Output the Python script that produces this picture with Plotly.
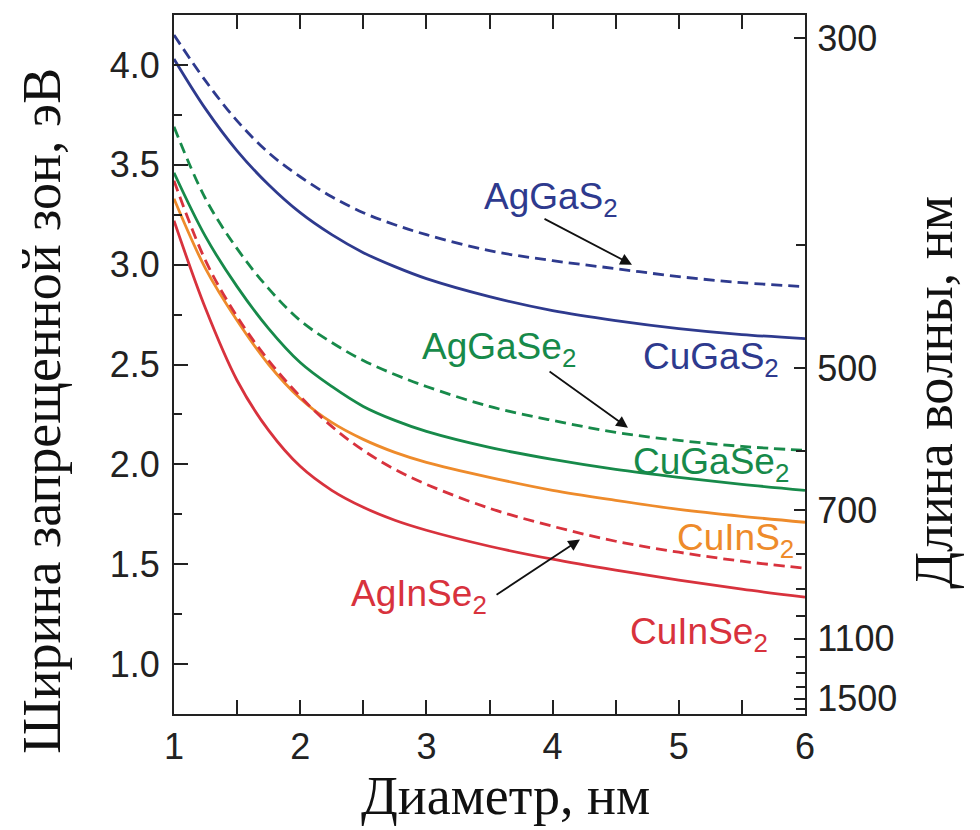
import plotly.graph_objects as go

# Diameter, nm
diam = [1.0, 1.25, 1.5, 1.75, 2.0, 2.25, 2.5, 2.75, 3.0, 3.5, 4.0, 4.5, 5.0, 5.5, 6.0]

# Band gap, eV
AgGaS2 = [4.15, 3.92, 3.72, 3.56, 3.44, 3.34, 3.26, 3.20, 3.15, 3.07, 3.02, 2.98, 2.94, 2.91, 2.89]
CuGaS2 = [4.03, 3.78, 3.57, 3.40, 3.26, 3.15, 3.06, 2.99, 2.93, 2.84, 2.77, 2.72, 2.68, 2.65, 2.63]
AgGaSe2 = [3.69, 3.33, 3.08, 2.88, 2.72, 2.61, 2.52, 2.45, 2.39, 2.29, 2.22, 2.16, 2.12, 2.09, 2.07]
CuGaSe2 = [3.46, 3.14, 2.89, 2.68, 2.51, 2.39, 2.29, 2.22, 2.165, 2.085, 2.025, 1.975, 1.935, 1.90, 1.87]
CuInS2 = [3.33, 2.98, 2.72, 2.50, 2.33, 2.21, 2.125, 2.06, 2.01, 1.935, 1.87, 1.82, 1.775, 1.74, 1.71]
AgInSe2 = [3.42, 3.02, 2.74, 2.52, 2.34, 2.19, 2.07, 1.975, 1.90, 1.78, 1.69, 1.615, 1.56, 1.515, 1.48]
CuInSe2 = [3.22, 2.78, 2.42, 2.17, 1.99, 1.87, 1.785, 1.72, 1.67, 1.59, 1.525, 1.47, 1.42, 1.375, 1.335]

# Right axis: wavelength ticks (nm)
wl_major = [300, 500, 700, 1100, 1500]
wl_major_labels = ["300", "500", "700", "1100", "1500"]
wl_minor = [400, 600, 800, 900, 1000, 1200, 1300, 1400, 1600]

BLUE = "#2e3a8e"
GREEN = "#178a4a"
ORANGE = "#ee8b2b"
RED = "#d8323d"

series = [
    ("AgGaS2", AgGaS2, BLUE, "11px,6px"),
    ("CuGaS2", CuGaS2, BLUE, "solid"),
    ("AgGaSe2", AgGaSe2, GREEN, "11px,6px"),
    ("CuGaSe2", CuGaSe2, GREEN, "solid"),
    ("CuInS2", CuInS2, ORANGE, "solid"),
    ("AgInSe2", AgInSe2, RED, "11px,6px"),
    ("CuInSe2", CuInSe2, RED, "solid"),
]

fig = go.Figure()
for name, ys, col, dash in series:
    fig.add_trace(go.Scatter(x=diam, y=ys, mode="lines", name=name,
                             line=dict(color=col, width=2.8, dash=dash, shape="spline", smoothing=1.0),
                             showlegend=False, yaxis="y"))

# invisible trace to activate the right axis
fig.add_trace(go.Scatter(x=[1], y=[1], mode="markers", marker=dict(opacity=0),
                         showlegend=False, yaxis="y2", hoverinfo="skip"))

YR = [0.75, 4.25]
AX = "#222222"
tickfont = dict(family="Liberation Sans, Arial, sans-serif", size=36, color="#222")

fig.update_layout(
    width=980, height=830,
    margin=dict(l=166, r=183, t=5, b=124),
    paper_bgcolor="white", plot_bgcolor="white",
    xaxis=dict(range=[1, 6], tickvals=[1, 2, 3, 4, 5, 6], ticks="inside", ticklen=14,
               tickwidth=2, tickcolor=AX, showline=True, linecolor=AX, linewidth=2,
               mirror="allticks", showgrid=False, zeroline=False, tickfont=tickfont,
               minor=dict(dtick=0.5, ticks="inside", ticklen=8, tickwidth=2, tickcolor=AX, showgrid=False)),
    yaxis=dict(range=YR, tickvals=[1.0, 1.5, 2.0, 2.5, 3.0, 3.5, 4.0],
               ticktext=["1.0", "1.5", "2.0", "2.5", "3.0", "3.5", "4.0"],
               ticks="inside", ticklen=14, tickwidth=2, tickcolor=AX, ticklabelstandoff=5,
               showline=True, linecolor=AX, linewidth=2, showgrid=False, zeroline=False,
               tickfont=tickfont,
               minor=dict(tickvals=[0.75, 1.25, 1.75, 2.25, 2.75, 3.25, 3.75], ticks="inside",
                          ticklen=8, tickwidth=2, tickcolor=AX, showgrid=False)),
    yaxis2=dict(range=YR, overlaying="y", side="right",
                tickvals=[1240.0 / w for w in wl_major], ticktext=wl_major_labels,
                ticks="inside", ticklen=11, tickwidth=2, tickcolor=AX, ticklabelstandoff=3,
                showline=True, linecolor=AX, linewidth=2, showgrid=False, zeroline=False,
                tickfont=tickfont,
                minor=dict(tickvals=[1240.0 / w for w in wl_minor], ticks="inside",
                           ticklen=9, tickwidth=2, tickcolor=AX, showgrid=False)),
)

lab_font = lambda c: dict(family="Liberation Sans, Arial, sans-serif", size=37, color=c)
labels = [
    ("AgGaS<sub>2</sub>", 3.44, 3.33, BLUE),
    ("CuGaS<sub>2</sub>", 4.70, 2.53, BLUE),
    ("AgGaSe<sub>2</sub>", 2.95, 2.58, GREEN),
    ("CuGaSe<sub>2</sub>", 4.62, 2.00, GREEN),
    ("CuInS<sub>2</sub>", 4.97, 1.62, ORANGE),
    ("AgInSe<sub>2</sub>", 2.39, 1.34, RED),
    ("CuInSe<sub>2</sub>", 4.60, 1.15, RED),
]
for txt, x, y, c in labels:
    fig.add_annotation(x=x, y=y, xref="x", yref="y", text=txt, showarrow=False,
                       xanchor="left", yanchor="middle", font=lab_font(c))

arrows = [
    (3.924, 3.233, 4.629, 3.0),
    (3.964, 2.47, 4.597, 2.183),
    (3.544, 1.342, 4.217, 1.624),
]
for x0, y0, x1, y1 in arrows:
    fig.add_annotation(x=x1, y=y1, ax=x0, ay=y0, xref="x", yref="y", axref="x", ayref="y",
                       text="", showarrow=True, arrowhead=2, arrowsize=1.3, arrowwidth=1.8,
                       arrowcolor="#111")

title_font = dict(family="Liberation Serif, Times New Roman, serif", size=54, color="#111")
fig.add_annotation(text="Диаметр, нм", xref="paper", yref="paper", x=0.525, y=-0.118,
                   showarrow=False, xanchor="center", yanchor="middle", font=title_font)
fig.add_annotation(text="Ширина запрещенной зон, эВ", xref="paper", yref="paper", x=-0.209, y=0.434,
                   showarrow=False, textangle=-90, xanchor="center", yanchor="middle", font=title_font)
fig.add_annotation(text="Длина волны, нм", xref="paper", yref="paper", x=1.205, y=0.46,
                   showarrow=False, textangle=-90, xanchor="center", yanchor="middle", font=title_font)

fig.write_html("out.html")
